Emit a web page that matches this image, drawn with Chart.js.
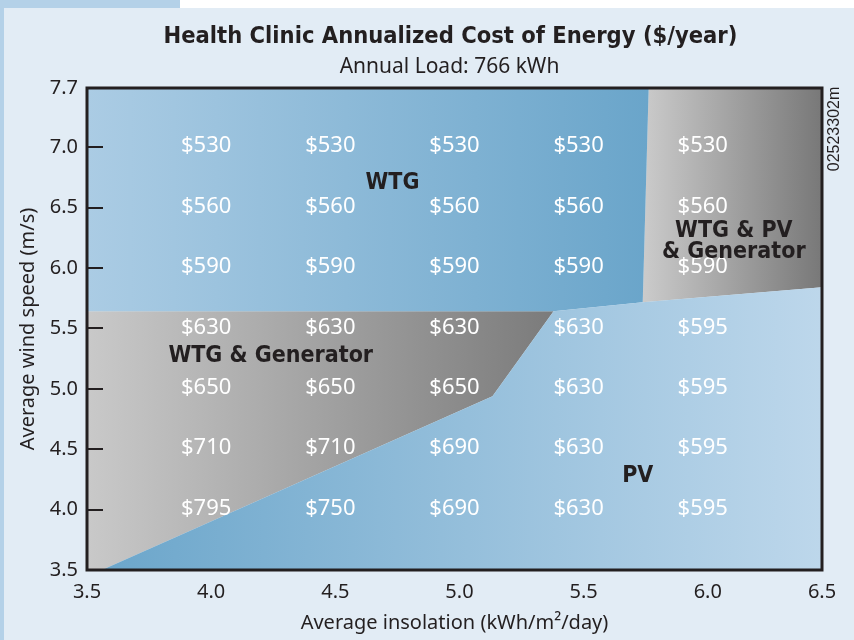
<!DOCTYPE html>
<html>
<head>
<meta charset="utf-8">
<title>Health Clinic Annualized Cost of Energy</title>
<script src="https://cdn.jsdelivr.net/npm/chart.js@4.4.1/dist/chart.umd.min.js"></script>
<style>
    html, body { margin: 0; padding: 0; background: #ffffff; }
    .page { position: relative; width: 854px; height: 640px; overflow: hidden; background: #e2ecf5; }
    .tab { position: absolute; left: 0; top: 0; width: 180px; height: 8px; background: #b4d1e8; }
    .edge { position: absolute; left: 0; top: 0; width: 4px; height: 640px; background: #b4d1e8; }
    .top-white { position: absolute; left: 180px; top: 0; width: 674px; height: 8px; background: #ffffff; }
    canvas { position: absolute; left: 0; top: 0; }
</style>
</head>
<body>
<div class="page">
    <div class="top-white"></div>
    <div class="tab"></div>
    <div class="edge"></div>
    <canvas id="costChart" width="854" height="640"></canvas>
</div>
<script>
// 坐标轴刻度（图中上端与右端的标注并不在线性位置上）
const xTickValues = [3.5, 4.0, 4.5, 5.0, 5.5, 6.0, 6.46];
const xTickLabels = ['3.5', '4.0', '4.5', '5.0', '5.5', '6.0', '6.5'];
const yTickValues = [3.5, 4.0, 4.5, 5.0, 5.5, 6.0, 6.5, 7.0, 7.49];
const yTickLabels = ['3.5', '4.0', '4.5', '5.0', '5.5', '6.0', '6.5', '7.0', '7.7'];

// 网格点：日照 (x) 与风速 (y)
const insolation = [4.0, 4.5, 5.0, 5.5, 6.0];
const windSpeed = [7.0, 6.5, 6.0, 5.5, 5.0, 4.5, 4.0];

// 每个风速下的年化成本 ($/year)
const costWind70 = [530, 530, 530, 530, 530];
const costWind65 = [560, 560, 560, 560, 560];
const costWind60 = [590, 590, 590, 590, 590];
const costWind55 = [630, 630, 630, 630, 595];
const costWind50 = [650, 650, 650, 630, 595];
const costWind45 = [710, 710, 690, 630, 595];
const costWind40 = [795, 750, 690, 630, 595];
const costRows = [costWind70, costWind65, costWind60, costWind55, costWind50, costWind45, costWind40];

// 最优系统区域边界 [insolation, wind speed]
const pvRegion = [[3.56, 3.5], [5.133, 4.939], [5.379, 5.642], [5.738, 5.717], [6.46, 5.841], [6.46, 3.5]];
const wtgRegion = [[3.5, 7.49], [5.762, 7.49], [5.738, 5.717], [5.379, 5.642], [3.5, 5.642]];
const wtgGenRegion = [[3.5, 5.642], [5.379, 5.642], [5.133, 4.939], [3.56, 3.5], [3.5, 3.5]];
const wtgPvGenRegion = [[5.762, 7.49], [6.46, 7.49], [6.46, 5.841], [5.738, 5.717]];

// 区域名称及其位置
const regionNames = [['WTG'], ['WTG & Generator'], ['WTG & PV', '& Generator'], ['PV']];
const regionNameAt = [[4.73, 6.70], [4.24, 5.27], [6.105, 6.215], [5.718, 4.28]];

const chartTitle = 'Health Clinic Annualized Cost of Energy ($/year)';
const chartSubtitle = 'Annual Load: 766 kWh';

const INK = '#231f20';
const SANS = "'Noto Sans', 'Open Sans', sans-serif";
const HEAVY = "'DejaVu Sans Condensed', 'Liberation Sans Narrow', 'Liberation Sans', sans-serif";

function toPoints(poly) {
    return poly.map(p => ({ x: p[0], y: p[1] }));
}

// 区域数据集（颜色渐变按 x 方向）
const regionSets = [
    { label: 'PV', data: toPoints(pvRegion), grad: [3.5, 6.46, '#6aa5ca', '#bdd7eb'] },
    { label: 'WTG', data: toPoints(wtgRegion), grad: [3.5, 5.76, '#abcce4', '#6aa5ca'] },
    { label: 'WTG & Generator', data: toPoints(wtgGenRegion), grad: [3.5, 5.38, '#c9c9c9', '#7b7b7b'] },
    { label: 'WTG & PV & Generator', data: toPoints(wtgPvGenRegion), grad: [5.74, 6.46, '#cbcbcb', '#787878'] }
];

// 插件：填充区域多边形
const regionFill = {
    id: 'regionFill',
    beforeDatasetDraw(chart, args) {
        const set = regionSets[args.index];
        const pts = args.meta.data;
        if (!set || !pts.length) return;
        const ctx = chart.ctx;
        const xs = chart.scales.x;
        const g = ctx.createLinearGradient(xs.getPixelForValue(set.grad[0]), 0, xs.getPixelForValue(set.grad[1]), 0);
        g.addColorStop(0, set.grad[2]);
        g.addColorStop(1, set.grad[3]);
        ctx.save();
        ctx.beginPath();
        pts.forEach((pt, i) => i ? ctx.lineTo(pt.x, pt.y) : ctx.moveTo(pt.x, pt.y));
        ctx.closePath();
        ctx.fillStyle = g;
        ctx.fill();
        ctx.restore();
    }
};

// 插件：标题、边框、内侧刻度、数值与区域名称
const overlay = {
    id: 'overlay',
    afterDatasetsDraw(chart) {
        const { ctx, chartArea: area } = chart;
        const xs = chart.scales.x;
        const ys = chart.scales.y;
        const midX = (area.left + area.right) / 2;
        ctx.save();
        ctx.textAlign = 'center';
        ctx.textBaseline = 'middle';

        // 标题
        ctx.fillStyle = INK;
        ctx.font = 'bold 23.5px ' + HEAVY;
        ctx.fillText(chartTitle, midX - 4, area.top - 51);
        ctx.font = '21px ' + SANS;
        ctx.fillText(chartSubtitle, midX - 5, area.top - 21);

        // 数值
        ctx.fillStyle = '#ffffff';
        ctx.font = '22px ' + SANS;
        costRows.forEach((row, r) => {
            row.forEach((v, c) => {
                ctx.fillText('$' + v, xs.getPixelForValue(insolation[c]) - 5, ys.getPixelForValue(windSpeed[r]) - 1);
            });
        });

        // 区域名称
        ctx.fillStyle = INK;
        ctx.font = 'bold 23px ' + HEAVY;
        regionNames.forEach((lines, i) => {
            const cx = xs.getPixelForValue(regionNameAt[i][0]);
            const cy = ys.getPixelForValue(regionNameAt[i][1]);
            lines.forEach((t, k) => {
                ctx.fillText(t, cx, cy + (k - (lines.length - 1) / 2) * 21);
            });
        });

        // 边框
        ctx.strokeStyle = INK;
        ctx.lineWidth = 3;
        ctx.strokeRect(area.left, area.top, area.right - area.left, area.bottom - area.top);

        // y 轴内侧刻度
        ctx.lineWidth = 2;
        yTickValues.slice(1, -1).forEach(v => {
            const py = Math.round(ys.getPixelForValue(v));
            ctx.beginPath();
            ctx.moveTo(area.left, py);
            ctx.lineTo(area.left + 16, py);
            ctx.stroke();
        });

        // 图号
        ctx.translate(area.right + 13, area.top + 41);
        ctx.rotate(-Math.PI / 2);
        ctx.font = "16px 'Liberation Sans', Arial, sans-serif";
        ctx.fillText('02523302m', 0, 0);
        ctx.restore();
    }
};

const chart = new Chart(document.getElementById('costChart'), {
    type: 'scatter',
    data: {
        datasets: regionSets.map(s => ({
            label: s.label,
            data: s.data,
            pointRadius: 0,
            pointHoverRadius: 0,
            showLine: false
        }))
    },
    options: {
        responsive: false,
        animation: false,
        events: [],
        layout: { padding: { left: 4, right: 32, top: 88, bottom: 0 } },
        plugins: {
            legend: { display: false },
            tooltip: { enabled: false },
            title: { display: false }
        },
        scales: {
            x: {
                type: 'linear',
                min: 3.5,
                max: 6.46,
                afterBuildTicks: scale => { scale.ticks = xTickValues.map(v => ({ value: v })); },
                afterFit: scale => { scale.height = 70; },
                grid: { display: false, drawTicks: false },
                border: { display: false },
                ticks: {
                    autoSkip: false,
                    maxRotation: 0,
                    padding: 10,
                    color: INK,
                    font: { family: SANS, size: 20 },
                    callback: (v, i) => xTickLabels[i]
                },
                title: {
                    display: true,
                    text: 'Average insolation (kWh/m²/day)',
                    color: INK,
                    font: { family: SANS, size: 20 },
                    padding: { top: 0, bottom: 5 }
                }
            },
            y: {
                type: 'linear',
                min: 3.5,
                max: 7.49,
                afterBuildTicks: scale => { scale.ticks = yTickValues.map(v => ({ value: v })); },
                afterFit: scale => { scale.width = 83; },
                grid: { display: false, drawTicks: false },
                border: { display: false },
                ticks: {
                    autoSkip: false,
                    padding: 9,
                    color: INK,
                    font: { family: SANS, size: 20 },
                    callback: (v, i) => yTickLabels[i]
                },
                title: {
                    display: true,
                    text: 'Average wind speed (m/s)',
                    color: INK,
                    font: { family: SANS, size: 20 },
                    padding: { top: 12, bottom: 0 }
                }
            }
        }
    },
    plugins: [regionFill, overlay]
});
</script>
</body>
</html>
